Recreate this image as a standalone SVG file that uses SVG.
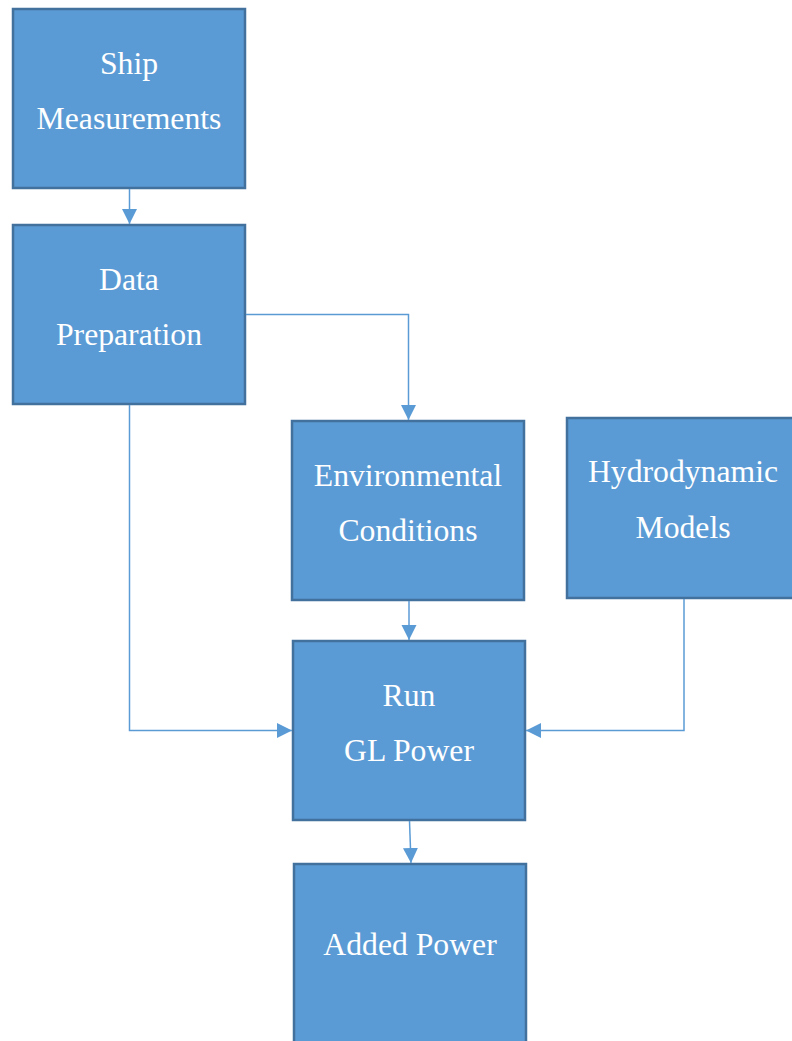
<svg xmlns="http://www.w3.org/2000/svg" width="792" height="1041" viewBox="0 0 792 1041">
<style>
.box{fill:#5B9BD5;stroke:#41719C;stroke-width:2.5}
.lbl{font-family:"Liberation Serif","Times New Roman",serif;font-size:31.7px;fill:#FFFFFF;text-anchor:middle}
.conn{fill:none;stroke:#5B9BD5;stroke-width:1.5}
</style>
<defs>
<marker id="arr" markerUnits="userSpaceOnUse" markerWidth="16" markerHeight="16" refX="15" refY="7.5" orient="auto">
<path d="M0,0 L15,7.5 L0,15 z" fill="#5B9BD5"/>
</marker>
</defs>
<rect width="792" height="1041" fill="#FFFFFF"/>
<g id="ship">
<rect class="box" x="13" y="9" width="232" height="179"/>
<text class="lbl" x="129" y="74">Ship</text>
<text class="lbl" x="129" y="129">Measurements</text>
</g>
<g id="data">
<rect class="box" x="13" y="225" width="232" height="179"/>
<text class="lbl" x="129" y="290">Data</text>
<text class="lbl" x="129" y="345">Preparation</text>
</g>
<g id="env">
<rect class="box" x="292" y="421" width="232" height="179"/>
<text class="lbl" x="408" y="486">Environmental</text>
<text class="lbl" x="408" y="541">Conditions</text>
</g>
<g id="hydro">
<rect class="box" x="567" y="418" width="232" height="180"/>
<text class="lbl" x="683" y="482">Hydrodynamic</text>
<text class="lbl" x="683" y="538">Models</text>
</g>
<g id="run">
<rect class="box" x="293" y="641" width="232" height="179"/>
<text class="lbl" x="409" y="706">Run</text>
<text class="lbl" x="409" y="761">GL Power</text>
</g>
<g id="added">
<rect class="box" x="294" y="864" width="232" height="190"/>
<text class="lbl" x="410" y="955">Added Power</text>
</g>
<g id="connectors">
<path class="conn" d="M129.5,189 V224" marker-end="url(#arr)"/>
<path class="conn" d="M246,314.5 H408.5 V420" marker-end="url(#arr)"/>
<path class="conn" d="M409,601 V640" marker-end="url(#arr)"/>
<path class="conn" d="M129.5,405 V730.5 H292" marker-end="url(#arr)"/>
<path class="conn" d="M684,599 V730.5 H526" marker-end="url(#arr)"/>
<path class="conn" d="M409.5,821 L411,863" marker-end="url(#arr)"/>
</g>
</svg>
